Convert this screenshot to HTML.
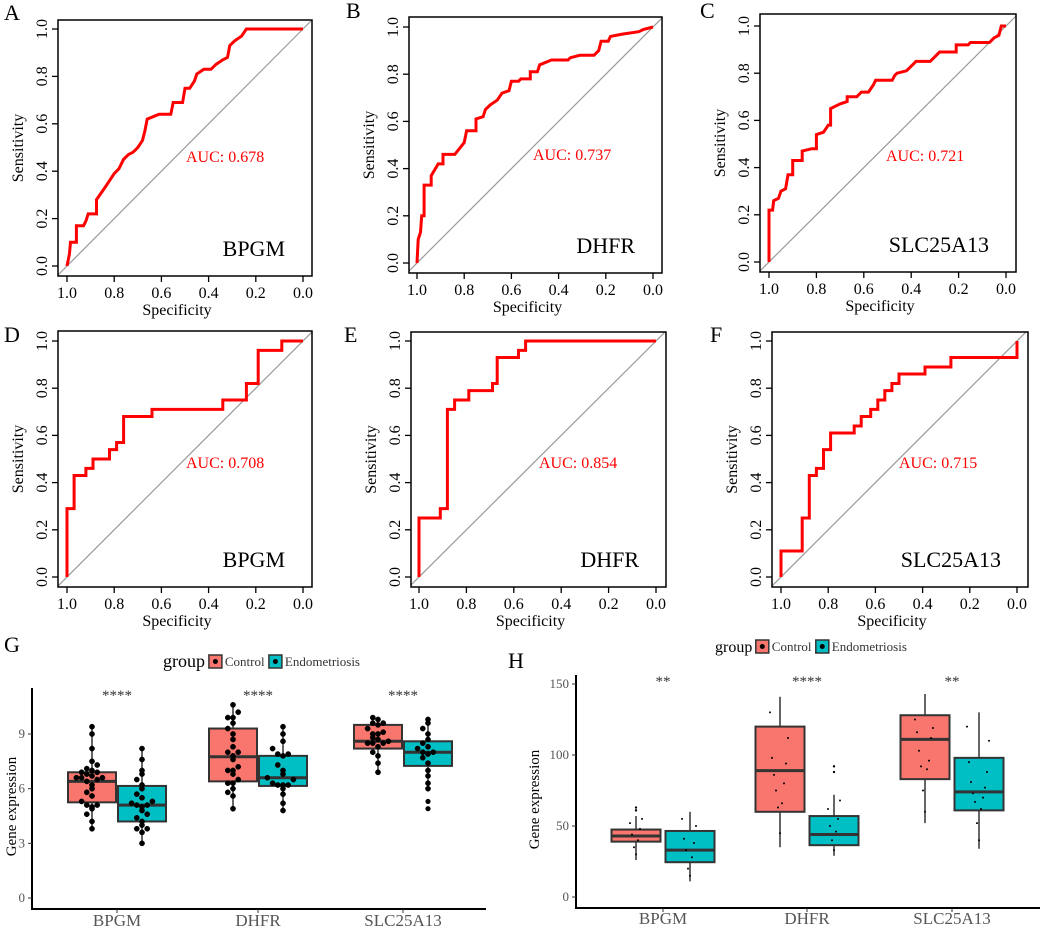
<!DOCTYPE html>
<html><head><meta charset="utf-8"><style>
body{margin:0;background:#fff;}
svg{display:block;font-family:"Liberation Serif",serif;}
</style></head><body>
<svg id="fig" width="1052" height="931" viewBox="0 0 1052 931" xmlns="http://www.w3.org/2000/svg"></svg>
<script>
// ROC data (specificity, sensitivity)
const rocA_spec=[1,0.99,0.985,0.96,0.96,0.93,0.92,0.91,0.875,0.875,0.84,0.8,0.78,0.76,0.74,0.72,0.7,0.68,0.67,0.66,0.61,0.56,0.55,0.51,0.5,0.48,0.46,0.45,0.42,0.39,0.37,0.34,0.32,0.31,0.29,0.26,0.24,0];
const rocA_sens=[0,0.05,0.1,0.1,0.17,0.17,0.19,0.22,0.22,0.28,0.33,0.39,0.41,0.45,0.47,0.48,0.5,0.53,0.57,0.62,0.64,0.64,0.69,0.69,0.75,0.75,0.78,0.81,0.83,0.83,0.85,0.87,0.88,0.93,0.95,0.97,1,1];
const rocB_spec=[1,0.995,0.985,0.98,0.97,0.97,0.94,0.94,0.91,0.89,0.89,0.84,0.8,0.79,0.75,0.75,0.72,0.71,0.69,0.66,0.64,0.61,0.6,0.57,0.56,0.52,0.52,0.49,0.48,0.43,0.36,0.35,0.31,0.25,0.23,0.22,0.19,0.18,0.13,0.06,0.04,0];
const rocB_sens=[0,0.1,0.13,0.2,0.2,0.33,0.33,0.37,0.42,0.42,0.46,0.46,0.51,0.56,0.56,0.61,0.62,0.65,0.67,0.69,0.72,0.73,0.77,0.77,0.78,0.78,0.81,0.81,0.84,0.86,0.86,0.87,0.88,0.88,0.9,0.94,0.94,0.96,0.97,0.98,0.99,1];
const rocC_spec=[1,1,0.985,0.98,0.96,0.95,0.93,0.92,0.9,0.9,0.86,0.86,0.82,0.8,0.8,0.77,0.75,0.74,0.74,0.72,0.7,0.67,0.67,0.63,0.61,0.58,0.56,0.55,0.48,0.47,0.46,0.42,0.39,0.38,0.32,0.29,0.28,0.21,0.21,0.16,0.15,0.07,0.05,0.03,0.02,0];
const rocC_sens=[0,0.22,0.22,0.26,0.27,0.3,0.31,0.37,0.37,0.43,0.43,0.47,0.48,0.48,0.54,0.55,0.58,0.58,0.65,0.66,0.67,0.68,0.7,0.7,0.72,0.72,0.75,0.77,0.77,0.79,0.8,0.81,0.84,0.85,0.85,0.88,0.89,0.89,0.92,0.92,0.93,0.93,0.95,0.96,1,1];
const rocD_spec=[1,1,0.97,0.97,0.92,0.92,0.89,0.89,0.82,0.82,0.79,0.79,0.76,0.76,0.64,0.64,0.34,0.34,0.24,0.24,0.19,0.19,0.09,0.09,0];
const rocD_sens=[0,0.29,0.29,0.43,0.43,0.46,0.46,0.5,0.5,0.54,0.54,0.57,0.57,0.68,0.68,0.71,0.71,0.75,0.75,0.82,0.82,0.96,0.96,1,1];
const rocE_spec=[1,1,0.91,0.91,0.88,0.88,0.85,0.85,0.79,0.79,0.69,0.69,0.67,0.67,0.58,0.58,0.55,0.55,0];
const rocE_sens=[0,0.25,0.25,0.29,0.29,0.71,0.71,0.75,0.75,0.79,0.79,0.82,0.82,0.93,0.93,0.96,0.96,1,1];
const rocF_spec=[1,1,0.91,0.91,0.88,0.88,0.85,0.85,0.82,0.82,0.79,0.79,0.69,0.69,0.66,0.66,0.62,0.62,0.59,0.59,0.56,0.56,0.53,0.53,0.5,0.5,0.39,0.39,0.28,0.28,0,0];
const rocF_sens=[0,0.11,0.11,0.25,0.25,0.43,0.43,0.46,0.46,0.54,0.54,0.61,0.61,0.64,0.64,0.68,0.68,0.71,0.71,0.75,0.75,0.79,0.79,0.82,0.82,0.86,0.86,0.89,0.89,0.93,0.93,1];
const rocTicks=[1.0,0.8,0.6,0.4,0.2,0.0];
const rocTickLabels=["1.0","0.8","0.6","0.4","0.2","0.0"];

// Boxplot data G
const genes=["BPGM","DHFR","SLC25A13"];
const gCtrl=[[3.8,5.25,6.4,6.9,9.4],[4.9,6.4,7.75,9.3,10.6],[6.9,8.2,8.6,9.5,9.9]];
const gEndo=[[3.0,4.2,5.1,6.15,8.2],[4.8,6.15,6.6,7.8,9.4],[6.0,7.25,8.0,8.6,9.8]];
const gEndoOut=[[],[],[5.3,4.9]];
const gCtrlDots=[[3.8,4.2,4.6,4.9,5.0,5.1,5.1,5.3,5.6,5.8,6.0,6.2,6.4,6.5,6.6,6.6,6.6,6.7,6.8,6.9,6.9,7.0,7.1,7.3,7.5,8.2,9.0,9.4],[4.9,5.6,5.8,6.0,6.3,6.3,6.5,6.8,7.0,7.0,7.2,7.6,7.8,8.0,8.0,8.3,8.7,9.0,9.3,9.6,9.9,9.9,10.2,10.6],[6.9,7.4,7.8,8.0,8.3,8.5,8.5,8.5,8.6,8.7,8.8,9.0,9.0,9.1,9.3,9.5,9.6,9.6,9.8,9.9]];
const gEndoDots=[[3.0,3.6,3.8,3.8,4.0,4.2,4.4,4.6,4.8,5.0,5.1,5.1,5.2,5.3,5.5,5.7,6.0,6.2,6.5,6.8,7.0,7.6,8.2],[4.8,5.2,5.7,6.0,6.2,6.2,6.2,6.3,6.5,6.6,6.8,7.0,7.3,7.8,7.9,7.9,8.2,8.6,9.0,9.4],[6.0,6.3,6.7,7.0,7.4,7.7,7.9,8.0,8.0,8.2,8.3,8.5,8.7,9.0,9.3,9.6,9.8]];
const gSig=["****","****","****"];
const gYTicks=[0,3,6,9];

// Boxplot data H
const hCtrl=[[26,39,43,47.5,57],[35,60,89,120,141],[52,83,111,128,143]];
const hEndo=[[11,24.5,33,46.5,60],[29,36.5,44,57,72],[34,61,74,98,130]];
const hCtrlOut=[[61,63],[],[]];
const hEndoOut=[[],[88,92],[]];
const hCtrlDots=[[30,35,40,44,48,52,55],[45,63,66,75,80,86,94,98,112,130],[60,75,90,92,96,103,112,116,119,125]];
const hEndoDots=[[15,20,28,33,38,41,50,55],[33,40,46,50,55,62,68],[40,52,62,67,70,73,77,81,88,95,110,120]];
const hSig=["**","****","**"];
const hYTicks=[0,50,100,150];

const NS="http://www.w3.org/2000/svg";
const svg=document.getElementById('fig');
function mk(tag,attrs,parent,text){const e=document.createElementNS(NS,tag);for(const k in attrs)e.setAttribute(k,attrs[k]);if(text!==undefined)e.textContent=text;(parent||svg).appendChild(e);return e;}

function roc(p){
  const g=mk('g',{});
  
  
  const X=v=>p.xs0+(p.xs1-p.xs0)*(1-v);
  const Y=v=>p.ys0+(p.ys1-p.ys0)*v;
  const cid='clip'+p.id;
  const cp=mk('clipPath',{id:cid},g);mk('rect',{x:p.l,y:p.t,width:p.r-p.l,height:p.b-p.t},cp);
  const ext=0.05;
  const diag=mk('line',{x1:X(1+ext),y1:Y(-ext),x2:X(-ext),y2:Y(1+ext),stroke:'#9a9a9a','stroke-width':1.2},g);
  diag.setAttribute('clip-path','url(#'+cid+')');
  
  
  const pts=p.spec.map((s,i)=>X(s).toFixed(1)+','+Y(p.sens[i]).toFixed(1)).join(' ');
  const line=mk('polyline',{points:pts,fill:'none',stroke:'#ff0000','stroke-width':3,'stroke-linejoin':'miter'},g);
  
  
  const box=mk('rect',{x:p.l,y:p.t,width:p.r-p.l,height:p.b-p.t,fill:'none',stroke:'#000','stroke-width':1.5},g);
  
  
  rocTicks.forEach((v,i)=>{
    mk('line',{x1:X(v),x2:X(v),y1:p.b,y2:p.b+6,stroke:'#000','stroke-width':1.3},g);
    const t=mk('text',{x:X(v),y:p.b+22,'font-size':16,'text-anchor':'middle'},g,rocTickLabels[i]);
    
    
    mk('line',{x1:p.l,x2:p.l-6,y1:Y(v),y2:Y(v),stroke:'#000','stroke-width':1.3},g);
    const ty=mk('text',{x:0,y:0,'font-size':16,'text-anchor':'middle',transform:`translate(${p.l-11},${Y(v)}) rotate(-90)`},g,rocTickLabels[i]);
    
    
  });
  const xt=mk('text',{x:(p.l+p.r)/2-8,y:p.b+39,'font-size':16,'text-anchor':'middle'},g,'Specificity');
  
  
  const yt=mk('text',{x:0,y:0,'font-size':16,'text-anchor':'middle',transform:`translate(${p.l-35},${(p.t+p.b)/2}) rotate(-90)`},g,'Sensitivity');
  
  
  const a=mk('text',{x:p.aucX,y:p.aucY,'font-size':16,fill:'#ff0000'},g,'AUC: '+p.auc);
  
  
  const gn=mk('text',{x:p.r-27,y:p.b-20,'font-size':22,'text-anchor':'end'},g,p.gene);
  
  
  const lt=mk('text',{x:p.lx,y:p.ly,'font-size':22},g,p.id);
  
  
}
roc({id:'A',l:58,t:20,r:312,b:276,xs0:67,xs1:303,ys0:266,ys1:29,spec:rocA_spec,sens:rocA_sens,auc:'0.678',aucX:186,aucY:162,gene:'BPGM',lx:4,ly:20});
roc({id:'B',l:409,t:17,r:662,b:273,xs0:417,xs1:653,ys0:263,ys1:27,spec:rocB_spec,sens:rocB_sens,auc:'0.737',aucX:533,aucY:160,gene:'DHFR',lx:346,ly:18});
roc({id:'C',l:760,t:14,r:1016,b:272,xs0:769,xs1:1006,ys0:262,ys1:26,spec:rocC_spec,sens:rocC_sens,auc:'0.721',aucX:886,aucY:161,gene:'SLC25A13',lx:700,ly:18});
roc({id:'D',l:58,t:331,r:312,b:587,xs0:67,xs1:303,ys0:577,ys1:341,spec:rocD_spec,sens:rocD_sens,auc:'0.708',aucX:186,aucY:468,gene:'BPGM',lx:4,ly:342});
roc({id:'E',l:411,t:332,r:666,b:587,xs0:419,xs1:656,ys0:577,ys1:341,spec:rocE_spec,sens:rocE_sens,auc:'0.854',aucX:539,aucY:468,gene:'DHFR',lx:344,ly:342});
roc({id:'F',l:772,t:332,r:1028,b:587,xs0:781,xs1:1017,ys0:577,ys1:341,spec:rocF_spec,sens:rocF_sens,auc:'0.715',aucX:899,aucY:468,gene:'SLC25A13',lx:710,ly:342});

function boxPanel(p){
  const g=mk('g',{});
  
  
  const Y=v=>p.y0+(p.y1-p.y0)*(v/p.v1);
  mk('line',{x1:p.ax,x2:p.ax,y1:p.top,y2:p.bot+1,stroke:'#000','stroke-width':2},g);
  mk('line',{x1:p.ax-1,x2:p.right,y1:p.bot,y2:p.bot,stroke:'#000','stroke-width':2},g);
  p.yticks.forEach(v=>{
    mk('line',{x1:p.ax-4,x2:p.ax,y1:Y(v),y2:Y(v),stroke:'#333','stroke-width':1},g);
    const t=mk('text',{x:p.ax-7,y:Y(v)+4,'font-size':p.tfs,'text-anchor':'end',fill:'#555'},g,String(v));
    
    
  });
  const yt=mk('text',{x:0,y:0,'font-size':p.yfs,'text-anchor':'middle',transform:`translate(${p.ytx},${(p.top+p.bot)/2+8}) rotate(-90)`},g,'Gene expression');
  
  
  genes.forEach((gname,i)=>{
    const cx=p.cx[i];
    mk('line',{x1:cx,x2:cx,y1:p.bot,y2:p.bot+4,stroke:'#333'},g);
    const t=mk('text',{x:cx,y:p.bot+p.xlOff,'font-size':17,'text-anchor':'middle',fill:'#555'},g,gname);
    
    
    const s=mk('text',{x:cx,y:p.sigY,'font-size':p.sfs,'text-anchor':'middle',fill:'#333'},g,p.sig[i]);
    
    
    [[p.ctrl[i],'#f8766d',-p.dodge,p.cDots[i],p.cOut[i],'control'],[p.endo[i],'#00bfc4',p.dodge,p.eDots[i],p.eOut[i],'endometriosis']].forEach(([st,col,off,dots,outs,nm])=>{
      const x=cx+off;
      const w=mk('line',{x1:x,x2:x,y1:Y(st[0]),y2:Y(st[4]),stroke:'#333','stroke-width':1.5},g);
      
      
      const b=mk('rect',{x:x-p.bw/2,y:Y(st[3]),width:p.bw,height:Y(st[1])-Y(st[3]),fill:col,stroke:'#333','stroke-width':2},g);
      
      
      const m=mk('line',{x1:x-p.bw/2,x2:x+p.bw/2,y1:Y(st[2]),y2:Y(st[2]),stroke:'#333','stroke-width':3},g);
      
      
      outs.forEach(v=>{const o=mk('circle',{cx:x,cy:Y(v),r:p.outR,fill:'#000'},g);});
      const bins={};
      dots.forEach(v=>{
        const k=Math.round(v/p.bin);const n=bins[k]||0;bins[k]=n+1;
        const dx=(n%2===0?1:-1)*Math.ceil(n/2)*p.dotR*2;
        const d=mk('circle',{cx:x+dx,cy:Y(v),r:p.dotR,fill:p.dotFill,stroke:'#000','stroke-width':p.dotStroke},g);
        
        
      });
    });
  });
  const lg=mk('g',{},g);
  
  
  mk('text',{x:p.lgx,y:p.lgy+5,'font-size':p.lgfs},lg,'group');
  let lx=p.lgx+p.lgfs*2.55;
  [['#f8766d','Control'],['#00bfc4','Endometriosis']].forEach(([c,l])=>{
    const k=mk('rect',{x:lx,y:p.lgy-7,width:13,height:13,fill:c,stroke:'#333','stroke-width':1.5},lg);
    
    
    mk('circle',{cx:lx+6.5,cy:p.lgy-0.5,r:2.5,fill:'#000'},lg);
    const t=mk('text',{x:lx+16,y:p.lgy+4,'font-size':13,fill:'#333'},lg,l);
    
    
    lx+=16+ (l==='Control'?44:90);
  });
  const lt=mk('text',{x:p.lx,y:p.ly,'font-size':22},g,p.id);
  
  
}
boxPanel({id:'G',ax:32,top:688,bot:909,right:486,y0:898,y1:734,v1:9,yticks:gYTicks,tfs:13,yfs:15,ytx:16,xlOff:17,
  cx:[117,258,403],dodge:25,bw:48,ctrl:gCtrl,endo:gEndo,cOut:[[],[],[]],eOut:gEndoOut,cDots:gCtrlDots,eDots:gEndoDots,
  sig:gSig,sigY:700,sfs:15,dotR:2.6,dotFill:'#000',dotStroke:0.5,outR:2.6,bin:0.4,lgx:163,lgy:662,lgfs:18,lx:4,ly:652});
boxPanel({id:'H',ax:576,top:675,bot:908,right:1040,y0:897,y1:684,v1:150,yticks:hYTicks,tfs:13,yfs:15,ytx:539,xlOff:16,
  cx:[663,807,952],dodge:27,bw:49,ctrl:hCtrl,endo:hEndo,cOut:hCtrlOut,eOut:hEndoOut,cDots:hCtrlDots,eDots:hEndoDots,
  sig:hSig,sigY:686,sfs:15,dotR:1,dotFill:'#000',dotStroke:0,outR:1.2,bin:1000,lgx:715,lgy:647,lgfs:16,lx:508,ly:668});
</script>
</body></html>
